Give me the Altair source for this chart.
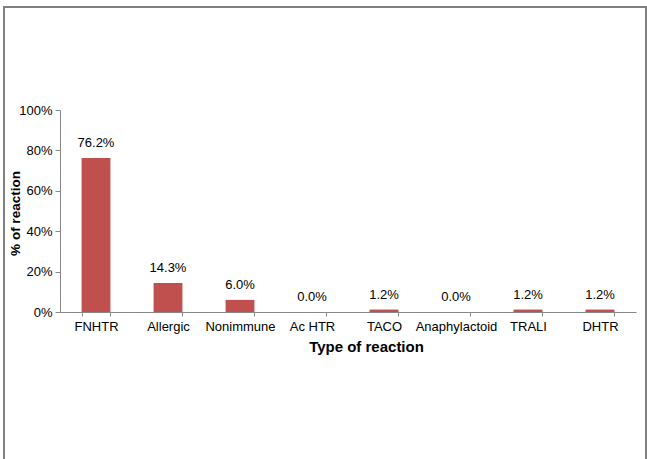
import altair as alt
import pandas as pd

categories = ["FNHTR", "Allergic", "Nonimmune", "Ac HTR", "TACO", "Anaphylactoid", "TRALI", "DHTR"]
values = [76.2, 14.3, 6.0, 0.0, 1.2, 0.0, 1.2, 1.2]
y_ticks = [0, 0.2, 0.4, 0.6, 0.8, 1.0]

df = pd.DataFrame({"type": categories, "pct": [v / 100 for v in values]})

FONT = "Liberation Sans"
BAR = "#C0504D"

base = alt.Chart(df)

x_enc = alt.X(
    "type:N",
    sort=categories,
    scale=alt.Scale(paddingInner=0.6, paddingOuter=0.3),
    axis=alt.Axis(
        title="Type of reaction",
        labelAngle=0,
        labelFont=FONT,
        labelFontSize=13,
        labelColor="#000000",
        labelPadding=4,
        tickBand="extent",
        tickSize=4,
        tickColor="#888888",
        domainColor="#888888",
        titleFont=FONT,
        titleFontSize=15,
        titleFontWeight="bold",
        titleColor="#000000",
        titleX=306,
        titleY=34,
        titleAlign="center",
        titleBaseline="middle",
    ),
)

bars = base.mark_bar(color=BAR).encode(
    x=x_enc,
    y=alt.Y(
        "pct:Q",
        scale=alt.Scale(domain=[0, 1]),
        axis=alt.Axis(
            title="% of reaction",
            values=y_ticks,
            format="%",
            grid=False,
            labelFont=FONT,
            labelFontSize=13,
            labelColor="#000000",
            labelPadding=3,
            tickSize=5,
            tickColor="#888888",
            domainColor="#888888",
            titleFont=FONT,
            titleFontSize=13.5,
            titleFontWeight="bold",
            titleColor="#000000",
            titleX=-45,
            titleY=103,
            titleAlign="center",
            titleBaseline="middle",
        ),
    ),
)

labels = base.mark_text(font=FONT, fontSize=13, color="#000000", dy=-8, baseline="bottom").encode(
    x=alt.X("type:N", sort=categories),
    y="pct:Q",
    text=alt.Text("pct:Q", format=".1%"),
)

border = alt.Chart(alt.Data(values=[{"a": 1}])).mark_rect(
    fill="white", fillOpacity=0, stroke="#808080", strokeWidth=2
).encode(
    x=alt.value(-56), x2=alt.value(586), y=alt.value(-103), y2=alt.value(400)
)

chart = alt.layer(border, bars, labels).properties(
    width=576,
    height=202,
    autosize=alt.AutoSizeParams(type="none"),
    padding={"left": 60, "top": 110, "right": 11, "bottom": 147},
    background="white",
).configure_view(stroke=None)

chart.save("out.html", embed_options={"renderer": "svg", "actions": False})
